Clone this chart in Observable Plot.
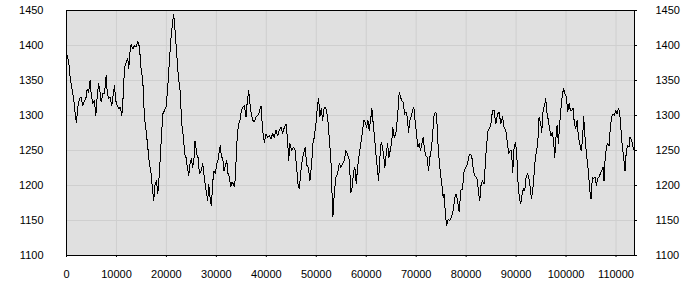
<!DOCTYPE html>
<html>
<head>
<meta charset="utf-8">
<script src="https://cdn.jsdelivr.net/npm/d3@7"></script>
<script src="https://cdn.jsdelivr.net/npm/@observablehq/plot@0.6"></script>
<style>
  html, body { margin: 0; padding: 0; background: white; }
  #chart svg { display: block; }
</style>
</head>
<body>
<div id="chart"></div>
<script>
const xTicks = [0, 10000, 20000, 30000, 40000, 50000, 60000, 70000, 80000, 90000, 100000, 110000];
const yTicks = [1100, 1150, 1200, 1250, 1300, 1350, 1400, 1450];
const xDomain = [0, 113700];
const yDomain = [1100, 1450];

const xs = [
0,400,800,1270,1470,1800,2000,2270,2600,2930,3270,3600,3930,4130,4400,4730,4930,5270,5600,5870,6130,6400,6670,6930,7270,7600,7930,8130,8400,8730,9070,9330,9600,9870,10130,10470,10800,11070,11330,11600,11930,12270,12470,12670,12930,13270,13600,13930,14270,14600,14930,15270,15600,15930,16270,16600,16930,17270,17470,17730,18000,18270,18600,18930,19270,19600,19930,20270,20600,20930,21270,21470,21730,22070,22400,22730,23070,23400,23670,23930,24200,24470,24730,25000,25270,25530,25730,26070,26330,26600,26930,27270,27600,27930,28270,28470,28730,29000,29270,29530,29800,30070,30330,30600,30800,31000,31270,31530,31800,32070,32330,32600,32870,33130,33400,33670,33930,34200,34470,34730,35000,35270,35600,35930,36200,36470,36730,37000,37270,37600,37930,38270,38600,38930,39270,39600,39930,40270,40600,40930,41270,41600,41930,42270,42600,42930,43270,43600,43930,44270,44470,44730,45070,45400,45730,46070,46330,46600,46930,47270,47600,47800,48070,48400,48730,49070,49330,49600,49930,50270,50470,50730,51000,51270,51600,51930,52270,52600,52930,53130,53330,53600,53930,54270,54600,54930,55270,55600,55930,56270,56600,56930,57200,57470,57730,58000,58270,58600,58930,59270,59530,59800,60070,60330,60600,60870,61130,61400,61670,61930,62200,62470,62730,63000,63270,63530,63730,64000,64270,64530,64800,65070,65330,65600,65930,66270,66600,66870,67130,67400,67670,67930,68200,68470,68730,69000,69270,69530,69800,70070,70330,70600,70870,71130,71400,71670,71930,72200,72470,72730,73000,73270,73530,73800,74070,74330,74600,74870,75130,75400,75600,75800,76070,76400,76730,77070,77400,77730,78000,78270,78600,78930,79270,79600,79930,80270,80600,80930,81200,81470,81730,82000,82270,82470,82730,83000,83270,83600,83870,84130,84400,84730,84930,85270,85600,85930,86270,86600,86930,87270,87600,87930,88270,88530,88800,89070,89330,89600,89870,90130,90400,90670,90930,91200,91470,91730,92000,92270,92530,92800,93070,93330,93600,93870,94130,94400,94600,94930,95130,95400,95670,95930,96200,96470,96730,97000,97270,97530,97730,97930,98200,98470,98730,99000,99270,99530,99800,100070,100330,100600,100870,101130,101400,101670,101930,102200,102470,102730,103000,103270,103530,103800,104070,104330,104600,104800,105000,105270,105530,105800,106070,106330,106600,106870,107130,107400,107600,107800,108070,108330,108600,108870,109130,109400,109670,109930,110200,110470,110730,111000,111270,111530,111800,112070,112330,112600,112800,113130,113400,113670
];

const ys = [
1388,1379,1350,1331,1321,1298,1290,1312,1324,1326,1314,1321,1326,1338,1333,1350,1331,1317,1321,1300,1326,1345,1336,1319,1331,1331,1357,1336,1324,1326,1314,1329,1343,1321,1314,1310,1312,1300,1326,1367,1376,1381,1367,1388,1402,1395,1400,1398,1406,1398,1367,1350,1298,1279,1255,1231,1217,1190,1179,1202,1207,1188,1218,1261,1302,1307,1312,1340,1379,1412,1436,1444,1421,1388,1355,1336,1288,1269,1245,1240,1226,1214,1231,1238,1226,1240,1264,1245,1240,1217,1221,1231,1210,1193,1179,1202,1183,1171,1205,1221,1217,1231,1236,1250,1257,1240,1240,1221,1229,1236,1217,1212,1198,1205,1202,1198,1233,1274,1288,1293,1307,1312,1314,1298,1321,1336,1317,1302,1293,1291,1298,1300,1305,1314,1279,1262,1274,1269,1271,1267,1274,1269,1279,1271,1279,1283,1274,1283,1288,1264,1236,1260,1250,1255,1252,1226,1202,1195,1221,1240,1250,1255,1229,1226,1207,1231,1260,1269,1288,1317,1324,1298,1310,1293,1312,1310,1298,1267,1236,1193,1155,1188,1212,1217,1231,1226,1231,1236,1250,1245,1236,1190,1198,1221,1226,1202,1226,1245,1260,1279,1293,1290,1283,1293,1279,1293,1310,1288,1269,1245,1226,1207,1240,1262,1255,1240,1226,1245,1260,1240,1250,1260,1283,1269,1274,1298,1333,1326,1321,1319,1302,1305,1298,1276,1293,1298,1307,1312,1290,1274,1255,1260,1250,1260,1269,1250,1243,1240,1221,1240,1250,1269,1298,1305,1302,1264,1236,1217,1202,1183,1188,1164,1143,1152,1150,1155,1164,1183,1188,1179,1162,1193,1195,1221,1226,1231,1243,1245,1238,1221,1214,1212,1207,1190,1179,1202,1207,1202,1236,1260,1279,1283,1286,1307,1307,1288,1302,1305,1288,1298,1283,1279,1260,1245,1250,1250,1219,1255,1262,1245,1202,1181,1174,1188,1195,1193,1212,1217,1212,1198,1181,1193,1217,1240,1250,1269,1298,1288,1276,1307,1314,1324,1302,1293,1279,1271,1276,1262,1240,1264,1286,1260,1288,1312,1331,1338,1331,1326,1305,1317,1307,1307,1310,1288,1281,1293,1269,1260,1250,1262,1298,1269,1245,1231,1207,1190,1181,1212,1210,1212,1200,1210,1212,1217,1221,1226,1207,1236,1255,1260,1257,1283,1298,1302,1300,1307,1302,1310,1305,1279,1255,1240,1221,1250,1257,1255,1269,1264,1255,1250
];

const data = xs.map((x, i) => ({x, y: ys[i]}));

const chart = Plot.plot({
  width: 700,
  height: 300,
  marginLeft: 66,
  marginRight: 66,
  marginTop: 10,
  marginBottom: 45,
  style: {background: "white", fontFamily: "'Liberation Sans', Arial, sans-serif", fontSize: "11px", color: "black"},
  x: {domain: xDomain},
  y: {domain: yDomain},
  marks: [
    Plot.frame({fill: "#e0e0e0", stroke: null}),
    Plot.gridX(xTicks, {stroke: "#cfcfcf", strokeOpacity: 1}),
    Plot.gridY(yTicks, {stroke: "#cfcfcf", strokeOpacity: 1}),
    Plot.line(data, {x: "x", y: "y", stroke: "black", strokeWidth: 1, shapeRendering: "crispEdges"}),
    Plot.frame({stroke: "black", strokeWidth: 1}),
    Plot.axisY(yTicks, {anchor: "left", tickSize: 0, tickPadding: 23, label: null, tickFormat: d => String(d)}),
    Plot.axisY(yTicks, {anchor: "right", tickSize: 2, tickPadding: 19, label: null, tickFormat: d => String(d)}),
    Plot.axisX(xTicks, {anchor: "bottom", tickSize: 2, tickPadding: 13, label: null, tickFormat: d => String(d)})
  ]
});
document.getElementById("chart").appendChild(chart);
</script>
</body>
</html>
